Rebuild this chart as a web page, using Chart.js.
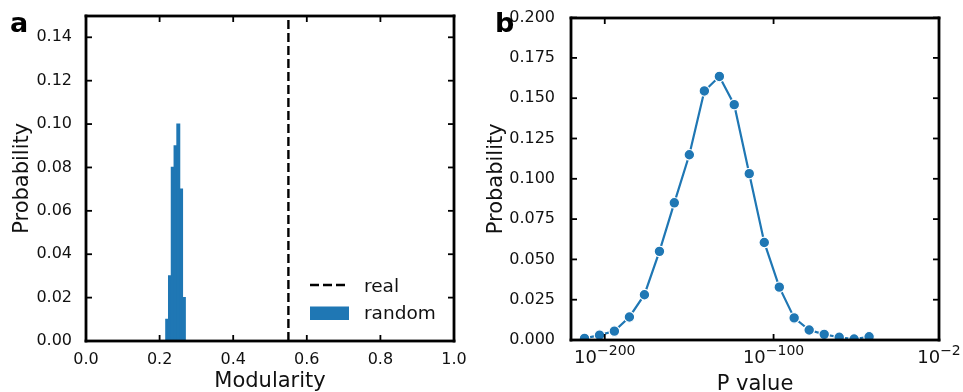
<!DOCTYPE html>
<html>
<head>
<meta charset="utf-8">
<script src="https://cdn.jsdelivr.net/npm/chart.js@4.4.0/dist/chart.umd.min.js"></script>
<style>
  html, body { margin: 0; padding: 0; background: #fff; }
  #wrap { position: relative; width: 963px; height: 392px; overflow: hidden; }
  #modChart { position: absolute; left: 0; top: 0; }
  #pChart { position: absolute; left: 480px; top: 0; }
</style>
</head>
<body>
<div id="wrap">
  <canvas id="modChart" width="480" height="392"></canvas>
  <canvas id="pChart" width="483" height="392"></canvas>
</div>
<script>
// panel a: modularity of randomised networks vs the real one
const modBinCenters = [0.2206, 0.2282, 0.2357, 0.2433, 0.2508, 0.2584, 0.2660];
const modBinProb = [0.010, 0.030, 0.080, 0.090, 0.100, 0.070, 0.020];
const realModularity = 0.55;
const modXTicks = [0, 0.2, 0.4, 0.6, 0.8, 1.0];
const modYTicks = [0, 0.02, 0.04, 0.06, 0.08, 0.10, 0.12, 0.14];

// panel b: distribution of P values (x is log10 of P)
const pExponents = [-212, -203.1, -194.3, -185.4, -176.5, -167.6, -158.8, -149.9, -141.0, -132.1,
                    -123.3, -114.4, -105.5, -96.6, -87.8, -78.9, -70.0, -61.1, -52.3, -43.4];
const pProb = [0.001, 0.003, 0.0055, 0.0143, 0.0281, 0.055, 0.0851, 0.1149, 0.1545, 0.1635,
               0.146, 0.1032, 0.0605, 0.0328, 0.0137, 0.0062, 0.0035, 0.0017, 0.0006, 0.002];
const pXTicks = [-200, -100, -2];
const pYTicks = [0, 0.025, 0.05, 0.075, 0.1, 0.125, 0.15, 0.175, 0.2];

const BLUE = '#1f77b4';
const INK = '#111';

Chart.defaults.font.family = "'DejaVu Sans', sans-serif";
Chart.defaults.color = INK;

const panels = {
    modChart: { x: modXTicks, y: modYTicks, letter: 'a', letterX: 10 },
    pChart: { x: pXTicks, y: pYTicks, letter: 'b', letterX: 15 }
};

// inward ticks on all four sides, black frame, panel letter
const frameTicks = {
    id: 'frameTicks',
    afterDraw(chart) {
        const ctx = chart.ctx;
        const a = chart.chartArea;
        const p = panels[chart.canvas.id];
        const L = Math.round(a.left), R = Math.round(a.right);
        const T = Math.round(a.top), B = Math.round(a.bottom);
        const len = 6, tw = 1.8, fw = 2.8;
        ctx.save();
        ctx.fillStyle = '#000';
        p.x.forEach(v => {
            const px = chart.scales.x.getPixelForValue(v);
            ctx.fillRect(px - tw / 2, B - len, tw, len);
            ctx.fillRect(px - tw / 2, T, tw, len);
        });
        p.y.forEach(v => {
            const py = chart.scales.y.getPixelForValue(v);
            ctx.fillRect(L, py - tw / 2, len, tw);
            ctx.fillRect(R - len, py - tw / 2, len, tw);
        });
        ctx.fillRect(L - fw / 2, T - fw / 2, R - L + fw, fw);
        ctx.fillRect(L - fw / 2, B - fw / 2, R - L + fw, fw);
        ctx.fillRect(L - fw / 2, T - fw / 2, fw, B - T + fw);
        ctx.fillRect(R - fw / 2, T - fw / 2, fw, B - T + fw);

        ctx.font = "bold 27px 'DejaVu Sans'";
        ctx.textBaseline = 'alphabetic';
        ctx.fillText(p.letter, p.letterX, 32);
        ctx.restore();
    }
};

// legend of panel a, drawn inside the axes
const modLegend = {
    id: 'modLegend',
    afterDraw(chart) {
        if (chart.canvas.id !== 'modChart') return;
        const ctx = chart.ctx;
        const a = chart.chartArea;
        const x0 = a.right - 144, x1 = a.right - 106, tx = a.right - 90;
        ctx.save();
        ctx.strokeStyle = '#000';
        ctx.lineWidth = 2.4;
        ctx.setLineDash([9, 4]);
        ctx.beginPath();
        ctx.moveTo(x0, a.bottom - 56);
        ctx.lineTo(x1 + 1, a.bottom - 56);
        ctx.stroke();
        ctx.setLineDash([]);
        ctx.fillStyle = BLUE;
        ctx.fillRect(x0, a.bottom - 34.5, x1 - x0 + 1, 13.5);
        ctx.fillStyle = INK;
        ctx.font = "18.5px 'DejaVu Sans'";
        ctx.fillText('real', tx, a.bottom - 48.7);
        ctx.fillText('random', tx, a.bottom - 21.7);
        ctx.restore();
    }
};

// 10^n tick labels for panel b
const powerLabels = {
    id: 'powerLabels',
    afterDraw(chart) {
        if (chart.canvas.id !== 'pChart') return;
        const ctx = chart.ctx;
        const sx = chart.scales.x;
        const a = chart.chartArea;
        ctx.save();
        ctx.fillStyle = INK;
        ctx.textBaseline = 'alphabetic';
        pXTicks.forEach(v => {
            const base = '10';
            const sup = '\u2212' + Math.abs(v);
            ctx.font = "18px 'DejaVu Sans'";
            const wb = ctx.measureText(base).width;
            ctx.font = "14px 'DejaVu Sans'";
            const ws = ctx.measureText(sup).width;
            const left = sx.getPixelForValue(v) - (wb + ws) / 2;
            ctx.font = "18px 'DejaVu Sans'";
            ctx.fillText(base, left, a.bottom + 23);
            ctx.font = "14px 'DejaVu Sans'";
            ctx.fillText(sup, left + wb, a.bottom + 15);
        });
        ctx.restore();
    }
};

Chart.register(frameTicks, modLegend, powerLabels);

const modChart = new Chart(document.getElementById('modChart'), {
    type: 'bar',
    data: {
        datasets: [
            {
                type: 'line',
                label: 'real',
                data: [{ x: realModularity, y: 0 }, { x: realModularity, y: 0.15 }],
                borderColor: '#000',
                borderWidth: 2.4,
                borderDash: [9, 4],
                pointRadius: 0
            },
            {
                label: 'random',
                data: modBinCenters.map((x, i) => ({ x: x, y: modBinProb[i] })),
                backgroundColor: BLUE,
                borderWidth: 0,
                barPercentage: 1,
                categoryPercentage: 1,
                inflateAmount: 0.6
            }
        ]
    },
    options: {
        responsive: false,
        animation: false,
        layout: { padding: { left: 0, right: 26, top: 15, bottom: 0 } },
        plugins: { legend: { display: false }, tooltip: { enabled: false } },
        scales: {
            x: {
                type: 'linear',
                min: 0,
                max: 1,
                offset: false,
                grid: { display: false },
                border: { display: false },
                afterBuildTicks: s => { s.ticks = modXTicks.map(v => ({ value: v })); },
                afterFit: s => { s.height = 51; },
                ticks: { padding: 1, font: { size: 16 }, maxRotation: 0, autoSkip: false,
                         callback: v => v.toFixed(1) },
                title: { display: true, text: 'Modularity', font: { size: 21 },
                         padding: { top: 0, bottom: -2 } }
            },
            y: {
                min: 0,
                max: 0.15,
                grid: { display: false },
                border: { display: false },
                afterBuildTicks: s => { s.ticks = modYTicks.map(v => ({ value: v })); },
                afterFit: s => { s.width = 86; },
                ticks: { padding: 6, font: { size: 16 }, autoSkip: false,
                         callback: v => v.toFixed(2) },
                title: { display: true, text: 'Probability', font: { size: 21 },
                         padding: { top: 10, bottom: 0 } }
            }
        }
    }
});

const pChart = new Chart(document.getElementById('pChart'), {
    type: 'line',
    data: {
        datasets: [{
            label: 'P value',
            data: pExponents.map((x, i) => ({ x: x, y: pProb[i] })),
            borderColor: BLUE,
            borderWidth: 2.2,
            pointRadius: 5.3,
            pointBackgroundColor: BLUE,
            pointBorderColor: '#fff',
            pointBorderWidth: 1.2,
            tension: 0
        }]
    },
    options: {
        responsive: false,
        animation: false,
        layout: { padding: { left: 0, right: 24, top: 15, bottom: 0 } },
        plugins: { legend: { display: false }, tooltip: { enabled: false } },
        scales: {
            x: {
                type: 'linear',
                min: -220,
                max: -2,
                grid: { display: false },
                border: { display: false },
                afterBuildTicks: s => { s.ticks = pXTicks.map(v => ({ value: v })); },
                afterFit: s => { s.height = 52; },
                ticks: { display: false },
                title: { display: true, text: 'P value', font: { size: 21 },
                         padding: { top: 0, bottom: -5 } }
            },
            y: {
                min: 0,
                max: 0.2,
                grid: { display: false },
                border: { display: false },
                afterBuildTicks: s => { s.ticks = pYTicks.map(v => ({ value: v })); },
                afterFit: s => { s.width = 91; },
                ticks: { padding: 8, font: { size: 16 }, autoSkip: false,
                         callback: v => v.toFixed(3) },
                title: { display: true, text: 'Probability', font: { size: 21 },
                         padding: { top: 4, bottom: 0 } }
            }
        }
    }
});
</script>
</body>
</html>
